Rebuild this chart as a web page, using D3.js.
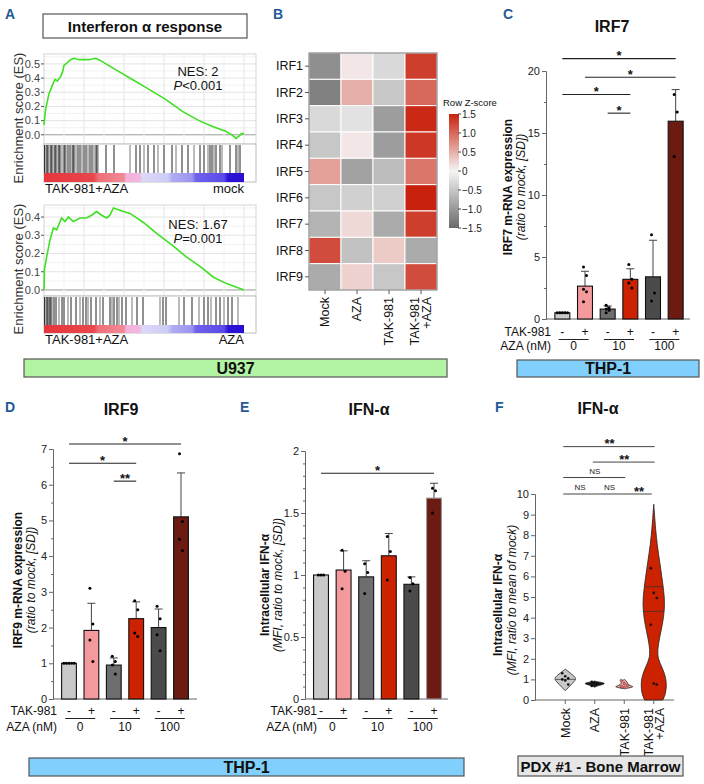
<!DOCTYPE html>
<html><head><meta charset="utf-8">
<script src="https://cdn.jsdelivr.net/npm/d3@7"></script>
<style>body{margin:0;background:#fff} svg text{font-family:"Liberation Sans",Arial,sans-serif}</style>
</head><body><svg id="c" width="704" height="784"></svg>
<script>
// ================= DATA =================
// Panel A - GSEA running enrichment score (rank in % of list, ES)
const gseaRank1 = [0,0.8,2.5,4.2,5.5,6.7,8.3,9.2,10,11.7,13.3,15,17.5,20,22.5,25.8,27.5,35.8,44.2,52.5,60.8,69.2,77.5,84,90.8,94,96,97.5,98.5,100];
const gseaES1   = [0.07,0.18,0.29,0.35,0.39,0.38,0.41,0.44,0.49,0.51,0.53,0.54,0.53,0.53,0.53,0.54,0.53,0.46,0.39,0.32,0.25,0.165,0.10,0.06,0.025,0.0,-0.026,-0.01,0.005,0.01];
const gseaHits1 = [0.3,1,1.5,2,3,3.5,4,5,5.5,6,7,7.5,8,9,10,10.5,11,12,13,14,14.5,15,16,17,18,19,20,21,22,23,24,25,26,26.5,27,31,35,43,46,48,50,52,55,57,60,64,66,69,72,75,78,80,82,83,84,85,86,88,89,93,96,97,98];
const gseaRank2 = [0,0.2,1.3,3,4.7,6.3,8.8,10.5,12.2,14.7,18,21.3,23.8,26.3,28.8,31.3,33,34.7,37.2,39.7,43,49.7,56.3,64.7,71.3,78,84.7,91.3,96.3,100];
const gseaES2   = [0,0.11,0.18,0.275,0.34,0.33,0.395,0.375,0.40,0.375,0.395,0.395,0.41,0.43,0.41,0.395,0.41,0.45,0.44,0.43,0.42,0.37,0.31,0.24,0.18,0.13,0.07,0.035,0.015,0];
const gseaHits2 = [0.3,1,1.5,2,2.5,3,3.5,4,5,6,7.5,9,10,12,13.5,16,18,19.5,21,22,23.5,26,28,29.5,33,34,35,36.5,37.5,39,41,44,46.5,49.5,58,59.5,61,67.5,70,74,77.5,80,82,83.5,86,88,90,92,94,97];
const esTicks1 = [0.0,0.1,0.2,0.3,0.4,0.5];
const esTicks2 = [0.0,0.1,0.2,0.3,0.4];

// Panel B - heatmap (row z-scores)
const heatGenes = ["IRF1","IRF2","IRF3","IRF4","IRF5","IRF6","IRF7","IRF8","IRF9"];
const heatConds = [["Mock"],["AZA"],["TAK-981"],["TAK-981","+AZA"]];
const heatZ = [
  [-1.1, 0.1,-0.3, 1.3],
  [-1.25,0.5,-0.5, 1.0],
  [-0.3,-0.2,-0.95,1.45],
  [-0.5, 0.1,-0.95,1.35],
  [ 0.6,-0.9,-0.6, 0.9],
  [-0.5,-0.4,-0.4, 1.5],
  [-0.7, 0.2,-0.8, 1.3],
  [ 1.2,-0.55,0.3,-0.8],
  [-0.8, 0.25,-0.5,1.2]
];
const zTicks = [1.5,1.0,0.5,0,-0.5,-1.0,-1.5];

// Shared bar-chart categories
const takLabels = ["-","+","-","+","-","+"];
const azaLabels = ["0","10","100"];
const barFill = ["#c9c9c9","#f59a9c","#6e6e6e","#cc2200","#4b4b4b","#6b1b12"];

// Panel C - IRF7
const irf7Mean = [0.5,2.65,0.8,3.2,3.4,15.95];
const irf7Err  = [0.05,1.2,0.25,0.85,2.95,2.55];
const irf7Pts  = [[0.5,0.5,0.5,0.5,0.5],[4.2,3.5,2.4,2.2,1.4],[1.1,0.9,0.8,0.7,0.5],[4.4,3.2,2.9,2.5],[6.8,2.1,1.45],[18.1,16.7,13.1]];
const irf7Sig  = [[0,5,21.0,"*"],[1,5,19.5,"*"],[0,3,18.1,"*"],[2,3,16.6,"*"]];
const irf7Ticks = [0,5,10,15,20];
const irf7Minor = [2.5,7.5,12.5,17.5];

// Panel D - IRF9
const irf9Mean = [1.0,1.92,0.95,2.25,2.0,5.1];
const irf9Err  = [0,0.76,0.2,0.47,0.52,1.23];
const irf9Pts  = [[1,1,1,1,1],[3.1,2.1,1.65,1.05],[1.2,1.05,0.95,0.7],[2.75,2.5,1.85,1.75],[2.6,2.25,1.8,1.35],[6.87,4.97,4.47,4.15]];
const irf9Sig  = [[0,5,7.14,"*"],[0,3,6.6,"*"],[2,3,6.1,"**"]];
const irf9Ticks = [0,1,2,3,4,5,6,7];
const irf9Minor = [0.5,1.5,2.5,3.5,4.5,5.5,6.5];

// Panel E - IFN-alpha (THP-1)
const ifnMean = [1.0,1.04,0.985,1.155,0.925,1.62];
const ifnErr  = [0,0.155,0.13,0.18,0.06,0.12];
const ifnPts  = [[1,1,1],[1.2,1.03,0.89],[1.09,1.02,0.85],[1.31,1.19,0.96],[0.98,0.93,0.87],[1.70,1.68,1.50]];
const ifnSig  = [[0,5,1.82,"*"]];
const ifnTicks = [0,0.5,1,1.5,2];
const ifnMinor = [0.1,0.2,0.3,0.4,0.6,0.7,0.8,0.9,1.1,1.2,1.3,1.4,1.6,1.7,1.8,1.9];

// Panel F - IFN-alpha PDX violins
const vioCats = [["Mock"],["AZA"],["TAK-981"],["TAK-981","+AZA"]];
const vioFill = ["#c8c8c8","#1a1a1a","#f4a3a3","#cc2200"];
const vioShape = [
  [[0.45,0],[0.6,0.23],[0.75,0.46],[0.9,0.7],[1.05,0.85],[1.2,0.6],[1.35,0.3],[1.5,0]],
  [[0.62,0],[0.7,0.25],[0.77,0.75],[0.83,0.75],[0.88,0.25],[0.92,0]],
  [[0.55,0],[0.6,0.5],[0.65,0.75],[0.7,0.4],[0.8,0.25],[0.9,0.22],[1.0,0]],
  [[0,0.7],[0.3,0.92],[0.8,1],[1.3,0.85],[1.8,0.46],[2.2,0.27],[2.7,0.35],[3.3,0.54],[4,0.77],[4.7,0.85],[5.3,0.77],[6,0.62],[6.7,0.46],[7.5,0.27],[8.3,0.14],[9,0.06],[9.5,0]]
];
const vioPts = [[1.3,1.15,1.05,1.0,0.95,0.75],[0.88,0.82,0.8,0.68],[0.95,0.8,0.7,0.65,0.6],[6.4,5.2,4.95,3.65,0.8,0.75]];
const vioLines = [[1.0],[],[],[4.3,5.5]];
const vioSig = [[0,3,12.3,"**"],[1,3,11.55,"**"],[0,2,10.8,"NS"],[0,1,10.0,"NS"],[1,2,10.0,"NS"],[2,3,10.0,"**"]];
const vioTicks = [0,1,2,3,4,5,6,7,8,9,10];

// ================= DRAWING =================
const svg = d3.select("#c");
svg.append("rect").attr("width",704).attr("height",784).attr("fill","#fff");
const defs = svg.append("defs");

function txt(x,y,s,o={}){
  const t = svg.append("text").attr("x",x).attr("y",y).text(s)
    .attr("font-size",o.size||12).attr("fill",o.fill||"#111")
    .attr("text-anchor",o.anchor||"start");
  if(o.weight) t.attr("font-weight",o.weight);
  if(o.style) t.attr("font-style",o.style);
  return t;
}
function vtxt(x,y,s,o={}){
  const t = svg.append("text").attr("transform",`translate(${x},${y}) rotate(-90)`)
    .attr("text-anchor",o.anchor||"middle").attr("dy",o.dy||"0.35em")
    .attr("font-size",o.size||12).attr("fill",o.fill||"#111").text(s);
  if(o.weight) t.attr("font-weight",o.weight);
  if(o.style) t.attr("font-style",o.style);
  return t;
}
function box(x,y,w,h,fill,label,size){
  svg.append("rect").attr("x",x).attr("y",y).attr("width",w).attr("height",h)
    .attr("fill",fill).attr("stroke","#555").attr("stroke-width",1.2);
  txt(x+w/2,y+h/2+5.5,label,{anchor:"middle",weight:"bold",size:size||16});
}
// panel letters
[["A",5,19],["B",273,19],["C",503,19],["D",5,412],["E",240,412],["F",495,412]].forEach(d=>
  txt(d[1],d[2],d[0],{size:14,weight:"bold",fill:"#1f5a96"}));

// ---------- Panel A ----------
box(43,14,204,24,"#fff","Interferon α response",15);
const gr = defs.append("linearGradient").attr("id","rankbar");
[[0,"#e6353b"],[0.25,"#e8474d"],[0.27,"#ee7078"],[0.4,"#f08a96"],[0.41,"#f4b0da"],[0.48,"#f2b8e0"],[0.49,"#dcd8f8"],[0.62,"#ccccf6"],[0.64,"#b0acf2"],[0.74,"#9a94f0"],[0.76,"#6e62ec"],[0.9,"#5a4ae8"],[0.92,"#2a14d8"],[1,"#2a10d0"]]
 .forEach(s=>gr.append("stop").attr("offset",s[0]).attr("stop-color",s[1]));

function gsea(o){
  const x = d3.scaleLinear().domain([0,100]).range([44,244]);
  const y = d3.scaleLinear().domain(o.dom).range([o.esBot,o.esTop]);
  const L=44,R=256;
  o.ticks.forEach(t=>{
    svg.append("line").attr("x1",L).attr("x2",R).attr("y1",y(t+0.05)).attr("y2",y(t+0.05)).attr("stroke","#f2f2f2");
    svg.append("line").attr("x1",L).attr("x2",R).attr("y1",y(t)).attr("y2",y(t)).attr("stroke",t===0?"#9a9a9a":"#e4e4e4");
  });
  [10,20,30,40,50,60,70,80,90,100].forEach(r=>svg.append("line").attr("x1",x(r)).attr("x2",x(r))
    .attr("y1",o.esTop).attr("y2",o.esBot).attr("stroke",r%20===0?"#e4e4e4":"#f2f2f2"));
  svg.append("rect").attr("x",L).attr("y",o.esTop).attr("width",R-L).attr("height",o.esBot-o.esTop)
    .attr("fill","none").attr("stroke","#d6d6d6");
  o.ticks.forEach(t=>{
    svg.append("line").attr("x1",L-3).attr("x2",L).attr("y1",y(t)).attr("y2",y(t)).attr("stroke","#555");
    txt(L-4,y(t)+3.8,d3.format(".1f")(t),{anchor:"end",size:11,fill:"#444"});
  });
  const pts = o.rank.map((r,i)=>[r,o.es[i]]);
  svg.append("path").attr("d",d3.line().x(d=>x(d[0])).y(d=>y(d[1]))(pts))
    .attr("fill","none").attr("stroke","#3ee022").attr("stroke-width",1.6);
  svg.append("rect").attr("x",L).attr("y",o.esBot).attr("width",R-L).attr("height",o.barBot-o.esBot)
    .attr("fill","#fff").attr("stroke","#bdbdbd");
  o.hits.forEach((h,i)=>svg.append("line").attr("x1",x(h)).attr("x2",x(h)).attr("y1",o.esBot+1).attr("y2",o.barTop)
    .attr("stroke",i%3===1?"#777":"#222").attr("stroke-width",1));
  svg.append("rect").attr("x",x(0)).attr("y",o.barTop).attr("width",x(100)-x(0)).attr("height",o.barBot-o.barTop)
    .attr("fill","url(#rankbar)");
  txt(L+1,o.barBot+11,"TAK-981+AZA",{size:13});
  txt(244,o.barBot+11,o.right,{size:13,anchor:"end"});
  vtxt(18,(o.esTop+o.barBot)/2,"Enrichment score (ES)",{size:13,fill:"#333"});
  txt(198,o.nesY,o.nes,{anchor:"middle",size:13});
  const p = txt(198,o.nesY+14,"",{anchor:"middle",size:13});
  p.append("tspan").attr("font-style","italic").text("P");
  p.append("tspan").text(o.p);
}
gsea({rank:gseaRank1,es:gseaES1,hits:gseaHits1,ticks:esTicks1,dom:[-0.065,0.57],esTop:54,esBot:144,barTop:173,barBot:182,right:"mock",nes:"NES: 2",p:"<0.001",nesY:76});
gsea({rank:gseaRank2,es:gseaES2,hits:gseaHits2,ticks:esTicks2,dom:[-0.033,0.466],esTop:205,esBot:296,barTop:325,barBot:333,right:"AZA",nes:"NES: 1.67",p:"=0.001",nesY:229});
box(24,359,423,18,"#b2f3a4","U937",16);

// ---------- Panel B ----------
(function(){
  const x = d3.scaleBand().domain(d3.range(4)).range([309,437]);
  const y = d3.scaleBand().domain(heatGenes).range([53,290]);
  const col = d3.scaleLinear().domain([-1.5,0,1.5]).range(["#6a6a6a","#f5f5f5","#c8220e"]);
  heatZ.forEach((row,i)=>row.forEach((v,j)=>{
    svg.append("rect").attr("x",x(j)).attr("y",y(heatGenes[i])).attr("width",x.bandwidth()).attr("height",y.bandwidth())
      .attr("fill",col(v)).attr("stroke","#fff").attr("stroke-width",1);
  }));
  svg.append("rect").attr("x",309).attr("y",53).attr("width",128).attr("height",237).attr("fill","none").attr("stroke","#777");
  heatGenes.forEach(g=>{
    const cy = y(g)+y.bandwidth()/2;
    svg.append("line").attr("x1",305).attr("x2",309).attr("y1",cy).attr("y2",cy).attr("stroke","#555");
    txt(303,cy+4.3,g,{anchor:"end",size:12.5});
  });
  heatConds.forEach((lines,j)=>{
    const cx = x(j)+x.bandwidth()/2;
    svg.append("line").attr("x1",cx).attr("x2",cx).attr("y1",290).attr("y2",294).attr("stroke","#555");
    lines.forEach((s,k)=>vtxt(cx+(k-(lines.length-1)/2)*12,297,s,{anchor:"end",size:12.5}));
  });
  const lg = defs.append("linearGradient").attr("id","zbar").attr("x1",0).attr("x2",0).attr("y1",1).attr("y2",0);
  [[0,"#6a6a6a"],[0.5,"#f5f5f5"],[1,"#c8220e"]].forEach(s=>lg.append("stop").attr("offset",s[0]).attr("stop-color",s[1]));
  const ly = d3.scaleLinear().domain([-1.5,1.5]).range([228,114]);
  svg.append("rect").attr("x",449).attr("y",114).attr("width",10).attr("height",114).attr("fill","url(#zbar)");
  txt(443,106,"Row Z-score",{size:9.5});
  zTicks.forEach(t=>{
    svg.append("line").attr("x1",458).attr("x2",461).attr("y1",ly(t)).attr("y2",ly(t)).attr("stroke","#444");
    txt(462,ly(t)+3.5,t===0?"0":d3.format(".1f")(t),{size:10,fill:"#222"});
  });
})();

// ---------- Bar panels ----------
function barPanel(o){
  const x = d3.scalePoint().domain(d3.range(6)).range(o.xr).padding(0.5);
  const bw = x.step()*0.66;
  const y = d3.scaleLinear().domain(o.dom).range([o.y0,o.y1]);
  const g = svg.append("g");
  const ax = g.append("g").attr("transform",`translate(${o.ax},0)`)
    .call(d3.axisLeft(y).tickValues(o.minor).tickSize(2).tickFormat(""));
  ax.select(".domain").remove();
  const ay = g.append("g").attr("transform",`translate(${o.ax},0)`)
    .call(d3.axisLeft(y).tickValues(o.ticks).tickSize(4).tickPadding(2).tickFormat(d=>d));
  g.selectAll(".tick line").attr("stroke","#666");
  ay.select(".domain").attr("stroke","#666");
  ay.selectAll("text").attr("font-size",11).attr("fill","#222").attr("font-family",'"Liberation Sans",Arial,sans-serif');
  g.append("line").attr("x1",o.ax).attr("x2",o.axEnd).attr("y1",y(0)).attr("y2",y(0)).attr("stroke","#666");
  o.mean.forEach((m,i)=>{
    if(o.err[i]<=0) return;
    const cx=x(i);
    g.append("line").attr("x1",cx).attr("x2",cx).attr("y1",y(m)).attr("y2",y(m+o.err[i])).attr("stroke","#444");
    g.append("line").attr("x1",cx-4).attr("x2",cx+4).attr("y1",y(m+o.err[i])).attr("y2",y(m+o.err[i])).attr("stroke","#444");
  });
  o.mean.forEach((m,i)=>g.append("rect").attr("x",x(i)-bw/2).attr("y",y(m)).attr("width",bw).attr("height",y(0)-y(m))
    .attr("fill",barFill[i]).attr("stroke",i===5&&o.lightEdge?"#999":"#111").attr("stroke-width",1.1));
  o.pts.forEach((arr,i)=>arr.forEach((v,k)=>{
    const n=arr.length, same = arr.every(a=>a===arr[0]);
    const off = same ? (k-(n-1)/2)*Math.min(2.6,(bw-4)/Math.max(1,n-1)) : ((k%2)?1.5:-1.5)*(n>1?1:0);
    g.append("circle").attr("cx",x(i)+off).attr("cy",y(v)).attr("r",1.5).attr("fill","#000");
  }));
  o.sig.forEach(s=>{
    const yy=y(s[2]);
    g.append("line").attr("x1",x(s[0])).attr("x2",x(s[1])).attr("y1",yy).attr("y2",yy).attr("stroke","#222").attr("stroke-width",1.1);
    txt((x(s[0])+x(s[1]))/2,yy+1.5,s[3],{anchor:"middle",size:13,weight:"bold"});
  });
  txt(o.labX,o.takY,"TAK-981",{anchor:"end",size:12});
  txt(o.labX,o.azaY,"AZA (nM)",{anchor:"end",size:12});
  takLabels.forEach((s,i)=>txt(x(i),o.takY,s,{anchor:"middle",size:12}));
  azaLabels.forEach((s,k)=>{
    const mx=(x(2*k)+x(2*k+1))/2;
    g.append("line").attr("x1",mx-15).attr("x2",mx+15).attr("y1",o.takY+3.5).attr("y2",o.takY+3.5).attr("stroke","#222");
    txt(mx,o.azaY,s,{anchor:"middle",size:12});
  });
  txt(o.tx,o.ty,o.title,{anchor:"middle",size:16,weight:"bold"});
  vtxt(o.ylx,o.ylc,o.ylab1,{size:12,weight:"bold"});
  vtxt(o.ylx+13,o.ylc,o.ylab2,{size:12,style:"italic"});
}
barPanel({xr:[551,687],ax:546,axEnd:690,dom:[0,20],y0:319,y1:71,ticks:irf7Ticks,minor:irf7Minor,
  mean:irf7Mean,err:irf7Err,pts:irf7Pts,sig:irf7Sig,labX:551,takY:336,azaY:350,
  title:"IRF7",tx:612,ty:32,ylab1:"IRF7 m-RNA expression",ylab2:"(ratio to mock, [SD])",ylx:508,ylc:187});
box(517,360,182,17,"#80cffc","THP-1",16);

barPanel({xr:[57.8,192.2],ax:53,axEnd:197,dom:[0,7],y0:699,y1:449,ticks:irf9Ticks,minor:irf9Minor,
  mean:irf9Mean,err:irf9Err,pts:irf9Pts,sig:irf9Sig,labX:57,takY:715,azaY:731,
  title:"IRF9",tx:121,ty:415,ylab1:"IRF9 m-RNA expression",ylab2:"(ratio to mock, [SD])",ylx:18,ylc:580});

barPanel({xr:[309.7,445.3],ax:305,axEnd:448,dom:[0,2],y0:699,y1:451,ticks:ifnTicks,minor:ifnMinor,
  mean:ifnMean,err:ifnErr,pts:ifnPts,sig:ifnSig,labX:317,takY:715,azaY:731,lightEdge:true,
  title:"IFN-α",tx:369,ty:415,ylab1:"Intracellular IFN-α",ylab2:"(MFI, ratio to mock, [SD])",ylx:265,ylc:585});
box(29,758,435,18,"#80cffc","THP-1",16);

// ---------- Panel F ----------
(function(){
  const x = d3.scalePoint().domain(d3.range(4)).range([550.5,668.5]).padding(0.5);
  const y = d3.scaleLinear().domain([0,10]).range([700,494]);
  const w = d3.scaleLinear().domain([0,1]).range([0,13]);
  const g = svg.append("g");
  const ay = g.append("g").attr("transform","translate(535,0)").call(d3.axisLeft(y).tickValues(vioTicks).tickSize(4).tickPadding(2));
  ay.select(".domain").attr("stroke","#666");
  ay.selectAll(".tick line").attr("stroke","#666");
  ay.selectAll("text").attr("font-size",11).attr("fill","#222").attr("font-family",'"Liberation Sans",Arial,sans-serif');
  g.append("line").attr("x1",535).attr("x2",674).attr("y1",y(0)).attr("y2",y(0)).attr("stroke","#666");
  vioShape.forEach((sh,i)=>{
    const cx=x(i);
    const area = d3.area().y(d=>y(d[0])).x0(d=>cx-w(d[1])).x1(d=>cx+w(d[1])).curve(d3.curveBasis);
    g.append("path").attr("d",area(sh)).attr("fill",vioFill[i]).attr("stroke","#222").attr("stroke-width",0.8);
    vioLines[i].forEach(v=>{
      const k = sh.findIndex(d=>d[0]>=v);
      const a=sh[k-1], b=sh[k], t=(v-a[0])/(b[0]-a[0]);
      const hw = w(a[1]+(b[1]-a[1])*t)*0.95;
      g.append("line").attr("x1",cx-hw).attr("x2",cx+hw).attr("y1",y(v)).attr("y2",y(v)).attr("stroke","#333").attr("stroke-width",0.7);
    });
    vioPts[i].forEach((v,k)=>g.append("circle").attr("cx",cx+((k%3)-1)*3).attr("cy",y(v)).attr("r",1.3)
      .attr("fill",i===2?"#e66":"#111").attr("stroke",i===2?"#333":"none").attr("stroke-width",0.4));
  });
  vioSig.forEach(s=>{
    const yy=y(s[2]);
    const short = s[1]-s[0]===1;
    g.append("line").attr("x1",x(s[0])-2).attr("x2",x(s[1])+(short?-2:1)).attr("y1",yy).attr("y2",yy)
      .attr("stroke","#444").attr("stroke-width",1);
    if(s[3]==="NS") txt((x(s[0])+x(s[1]))/2,yy-4,"NS",{anchor:"middle",size:8,fill:"#222"});
    else txt((x(s[0])+x(s[1]))/2,yy+1.5,s[3],{anchor:"middle",size:13,weight:"bold"});
  });
  vioCats.forEach((lines,i)=>{
    svg.append("line").attr("x1",x(i)).attr("x2",x(i)).attr("y1",700).attr("y2",704).attr("stroke","#666");
    lines.forEach((s,k)=>vtxt(x(i)+(k-(lines.length-1)/2)*11,708,s,{anchor:"end",size:12.5}));
  });
  txt(598,414,"IFN-α",{anchor:"middle",size:16,weight:"bold"});
  vtxt(498,605,"Intracellular IFN-α",{size:12,weight:"bold"});
  vtxt(512,600,"(MFI, ratio to mean of mock)",{size:12,style:"italic"});
})();
box(518,756,165,20,"#e6e6e6","PDX #1 - Bone Marrow",15);
</script></body></html>
